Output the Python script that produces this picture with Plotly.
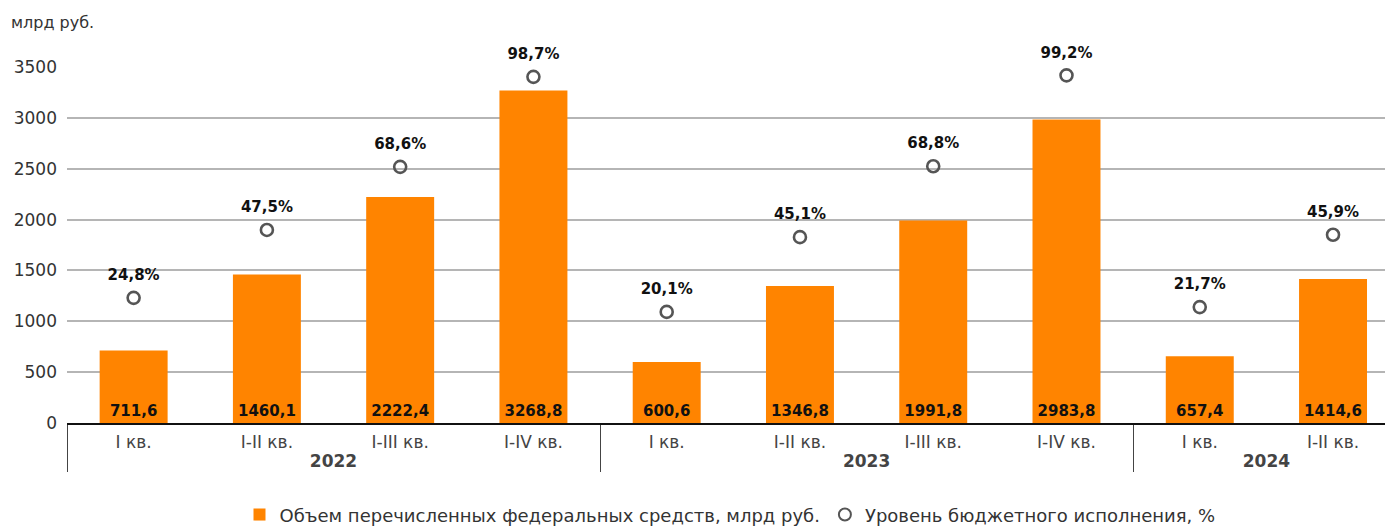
import plotly.graph_objects as go

years = ["<b>2022</b>"] * 4 + ["<b>2023</b>"] * 4 + ["<b>2024</b>"] * 2
quarters = ["I кв.", "I-II кв.", "I-III кв.", "I-IV кв.",
            "I кв.", "I-II кв.", "I-III кв.", "I-IV кв.",
            "I кв.", "I-II кв."]
volume = [711.6, 1460.1, 2222.4, 3268.8, 600.6, 1346.8, 1991.8, 2983.8, 657.4, 1414.6]
execution = [24.8, 47.5, 68.6, 98.7, 20.1, 45.1, 68.8, 99.2, 21.7, 45.9]

def ru(v, suffix=""):
    return f"{v:.1f}".replace(".", ",") + suffix

FONT = "DejaVu Sans"
ORANGE = "#FF8400"

fig = go.Figure()
fig.add_trace(go.Bar(
    x=[years, quarters], y=volume,
    name="Объем перечисленных федеральных средств, млрд руб.",
    marker=dict(color=ORANGE, line=dict(width=0)),
    text=[ru(v) for v in volume],
    textposition="inside", insidetextanchor="start", constraintext="none",
    textfont=dict(family=FONT, size=15, color="#111111", weight="bold"),
    textangle=0,
    cliponaxis=False,
))
fig.add_trace(go.Scatter(
    x=[years, quarters], y=execution, yaxis="y2",
    name="Уровень бюджетного исполнения, %",
    mode="markers",
    marker=dict(symbol="circle-open", size=12, color="#555555", line=dict(width=2.6, color="#555555")),
    cliponaxis=False,
))
fig.add_trace(go.Scatter(
    x=[years, quarters], y=execution, yaxis="y2",
    mode="markers+text", showlegend=False, hoverinfo="skip",
    marker=dict(size=21, color="rgba(0,0,0,0)"),
    text=[ru(v, "%") for v in execution],
    textposition="top center",
    textfont=dict(family=FONT, size=15, color="#111111", weight="bold"),
    cliponaxis=False,
))

fig.update_layout(
    width=1385, height=521,
    margin=dict(l=59, r=0, t=59, b=106, autoexpand=False),
    paper_bgcolor="white", plot_bgcolor="white",
    bargap=0.49,
    font=dict(family=FONT, size=16, color="#333333"),
    xaxis=dict(
        type="multicategory", range=[-0.5, 9.45], automargin=False,
        showline=True, linecolor="#111111", linewidth=1.5,
        showgrid=False, zeroline=False,
        showdividers=True, dividercolor="#444444", dividerwidth=1,
        tickfont=dict(family=FONT, size=17, color="#444444"),
        ticks="", ticklabelstandoff=3,
    ),
    yaxis=dict(
        range=[0, 3500], dtick=500, tick0=0, automargin=False,
        showgrid=True, gridcolor="#B5B5B5", gridwidth=1.5,
        zeroline=False, showline=False,
        tickfont=dict(family=FONT, size=17, color="#333333"),
        ticklabelstandoff=9,
    ),
    yaxis2=dict(
        overlaying="y", side="right", range=[-17.06, 102.0],
        visible=False, showgrid=False, automargin=False,
    ),
    legend=dict(
        orientation="h", x=0.5, xanchor="center", y=-0.258, yanchor="middle",
        font=dict(family=FONT, size=18, color="#333333"),
        itemsizing="constant", traceorder="normal", itemwidth=30,
    ),
    annotations=[dict(
        text="млрд руб.", xref="paper", yref="paper", x=-58/1326, y=1 + 45/356,
        xanchor="left", yanchor="middle", showarrow=False,
        font=dict(family=FONT, size=16, color="#333333"),
    )],
    showlegend=True,
)

fig.write_html("out.html")
